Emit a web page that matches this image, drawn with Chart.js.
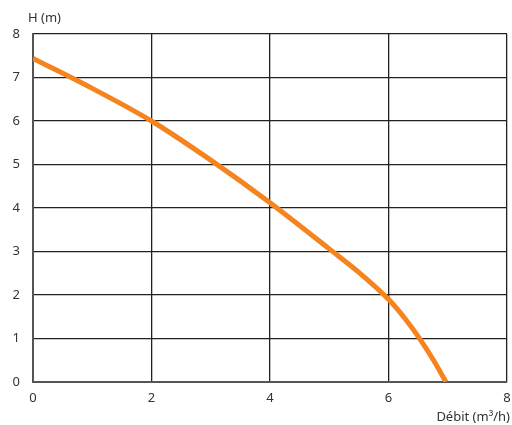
<!DOCTYPE html>
<html>
<head>
<meta charset="utf-8">
<script src="https://cdn.jsdelivr.net/npm/chart.js@4"></script>
<style>
  html, body { margin: 0; padding: 0; background: #fff; }
  #wrap { width: 512px; height: 425px; }
</style>
</head>
<body>
<div id="wrap"><canvas id="courbe"></canvas></div>
<script>
// donnees de la courbe
const debit = [0, 1, 2, 3, 4, 5, 5.5, 6, 6.3, 6.54, 6.76, 6.97];
const hauteur = [7.44, 6.75, 6.0, 5.1, 4.12, 3.06, 2.52, 1.9, 1.42, 0.97, 0.5, 0];
const xTicks = [0, 2, 4, 6, 8];
const yTicks = [0, 1, 2, 3, 4, 5, 6, 7, 8];

const police = "'Noto Sans', sans-serif";

// titres des axes
const titres = {
  id: "titres",
  afterDraw(chart) {
    const ctx = chart.ctx;
    const a = chart.chartArea;
    ctx.save();
    ctx.fillStyle = "#333";
    ctx.font = "13px " + police;
    ctx.textBaseline = "middle";
    ctx.textAlign = "left";
    ctx.fillText("H (m)", a.left - 5, 18);
    ctx.textAlign = "right";
    ctx.fillText("Débit (m³/h)", a.right + 3, 417);
    ctx.restore();
  },
};

const data = {
  datasets: [
    {
      data: debit.map((x, i) => ({ x: x, y: hauteur[i] })),
      borderColor: "#F5841F",
      borderWidth: 5,
      pointRadius: 0,
      fill: false,
      cubicInterpolationMode: "monotone",
    },
  ],
};

const config = {
  type: "line",
  data: data,
  options: {
    responsive: true,
    maintainAspectRatio: false,
    animation: false,
    layout: { padding: { top: 34, right: 0, left: 0, bottom: 0 } },
    plugins: { legend: { display: false }, tooltip: { enabled: false } },
    scales: {
      x: {
        type: "linear",
        min: 0,
        max: 8,
        afterBuildTicks: (s) => { s.ticks = xTicks.map((v) => ({ value: v })); },
        afterFit: (s) => { s.height = 43; s.paddingRight = 5; },
        ticks: { color: "#333", font: { family: police, size: 13 }, padding: 8 },
        grid: { color: "#222", lineWidth: 1.3, drawTicks: false },
        border: { color: "#555", width: 2 },
      },
      y: {
        min: 0,
        max: 8,
        afterBuildTicks: (s) => { s.ticks = yTicks.map((v) => ({ value: v })); },
        afterFit: (s) => { s.width = 33; },
        ticks: { color: "#333", font: { family: police, size: 13 }, padding: 13 },
        grid: { color: "#222", lineWidth: 1.3, drawTicks: false },
        border: { color: "#555", width: 2 },
      },
    },
  },
  plugins: [titres],
};

new Chart(document.getElementById("courbe"), config);
</script>
</body>
</html>
